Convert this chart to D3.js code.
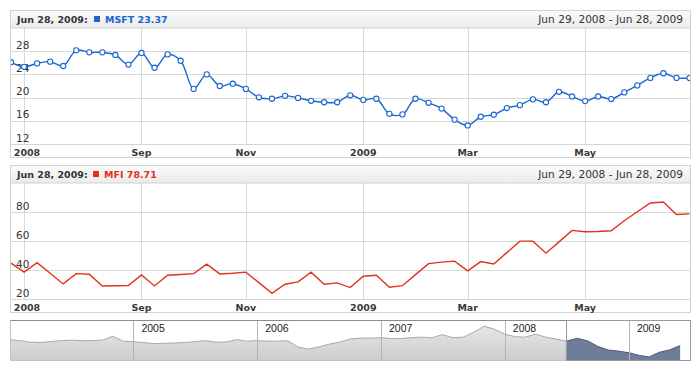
<!DOCTYPE html>
<html>
<head>
<meta charset="utf-8">
<script src="https://cdn.jsdelivr.net/npm/d3@7"></script>
<style>
  body { margin: 0; background: #fff; }
  text { font-family: "DejaVu Sans", Verdana, sans-serif; }
</style>
</head>
<body>
<svg id="chart"></svg>
<script>
// weekly closes, Sundays from Jun 29, 2008 to Jun 28, 2009
var firstWeek = "2008-06-29";
var lastWeek = "2009-06-28";
var msftValues = [26.1, 25.3, 25.9, 26.2, 25.45, 28.15, 27.8, 27.8, 27.35, 25.7,
                  27.7, 25.15, 27.45, 26.35, 21.5, 24.0, 22.0, 22.4, 21.5, 20.05,
                  19.8, 20.3, 19.95, 19.45, 19.2, 19.2, 20.4, 19.6, 19.8, 17.2,
                  17.1, 19.8, 19.1, 18.1, 16.2, 15.2, 16.7, 17.05, 18.2, 18.7,
                  19.7, 19.2, 21.0, 20.2, 19.4, 20.2, 19.75, 20.9, 22.1, 23.4,
                  24.2, 23.4, 23.37];
var mfiValues = [44.7, 38.5, 45.1, 37.8, 30.4, 37.5, 37.1, 29.0, 29.1, 29.2,
                 36.6, 29.0, 36.4, 36.9, 37.5, 44.0, 37.3, 37.8, 38.5, 31.3,
                 23.9, 30.2, 31.8, 38.5, 30.2, 31.1, 27.9, 35.7, 36.4, 28.1,
                 29.2, 36.8, 44.4, 45.4, 46.1, 39.4, 45.8, 44.2, 52.0, 59.9,
                 59.9, 51.6, 59.4, 67.3, 66.4, 66.6, 67.1, 74.0, 80.2, 86.2,
                 86.9, 78.3, 78.71];
var tickMonths = ["2008-07", "2008-09", "2008-11", "2009-01", "2009-03", "2009-05"];
var tickLabels = ["2008", "Sep", "Nov", "2009", "Mar", "May"];
var msftTicks = [12, 16, 20, 24, 28];
var mfiTicks = [20, 40, 60, 80];

// monthly history for the scroller, Jan 2004 .. Jun 2009
var scrollFirst = "2004-01";
var scrollValues = [26.75, 26.1, 25.2, 24.9, 25.5, 26.1, 26.4, 26.1, 26.1, 26.4, 28.9, 25.8,
                    25.4, 24.9, 24.25, 24.4, 24.6, 24.9, 25.5, 26.1, 25.2, 25.2, 26.75, 25.8,
                    26.1, 25.8, 25.8, 26.1, 22.1, 20.8, 22.1, 23.9, 25.2, 27.1, 27.7, 27.7,
                    28.0, 27.4, 27.4, 28.0, 28.3, 28.0, 29.9, 28.0, 28.3, 31.4, 35.2, 33.3,
                    30.2, 28.6, 28.3, 30.2, 28.3, 27.1, 25.8, 27.6, 26.0, 22.5, 20.2, 19.5,
                    18.5, 16.8, 15.8, 18.8, 20.3, 23.0];
var scrollYears = ["2005", "2006", "2007", "2008", "2009"];

var width = 700, height = 370;
var parseDay = d3.timeParse("%Y-%m-%d");
var parseMonth = d3.timeParse("%Y-%m");

var svg = d3.select("#chart").attr("width", width).attr("height", height);

var weeks = d3.timeWeek.range(parseDay(firstWeek), d3.timeDay.offset(parseDay(lastWeek), 1));
var left = 11, right = 689.5;
var x = d3.scalePoint().domain(weeks).range([left, right]);

var defs = svg.append("defs");
var hg = defs.append("linearGradient").attr("id", "hdr").attr("x1", 0).attr("y1", 0).attr("x2", 0).attr("y2", 1);
hg.append("stop").attr("offset", "0%").attr("stop-color", "#fbfbfb");
hg.append("stop").attr("offset", "100%").attr("stop-color", "#ebebeb");
var sg = defs.append("linearGradient").attr("id", "scrl").attr("x1", 0).attr("y1", 0).attr("x2", 0).attr("y2", 1);
sg.append("stop").attr("offset", "0%").attr("stop-color", "#e6e6e6");
sg.append("stop").attr("offset", "100%").attr("stop-color", "#cdcdcd");

function tickX(m) {
  var mDate = parseMonth(m);
  var w = weeks.find(function (d) { return d >= mDate; });
  return x(w);
}

function panel(opt) {
  var g = svg.append("g");
  var plotTop = opt.top + 18, plotBottom = opt.top + 134;
  var y = d3.scaleLinear().domain(opt.domain).range([plotBottom, plotTop]);

  g.append("rect").attr("x", 10.5).attr("y", opt.top + 0.5)
    .attr("width", 680).attr("height", 147).attr("fill", "#fff").attr("stroke", "#d2d2d2");
  g.append("rect").attr("x", 10.5).attr("y", opt.top + 0.5)
    .attr("width", 680).attr("height", 17.5).attr("fill", "url(#hdr)").attr("stroke", "#d2d2d2");

  // grid
  g.selectAll(".hg").data(opt.ticks).enter().append("line")
    .attr("x1", left).attr("x2", 690)
    .attr("y1", function (d) { return Math.round(y(d)) + 0.5; })
    .attr("y2", function (d) { return Math.round(y(d)) + 0.5; })
    .attr("stroke", "#d6dad6");
  g.selectAll(".vg").data(tickMonths).enter().append("line")
    .attr("x1", function (d) { return Math.round(tickX(d)) + 0.5; })
    .attr("x2", function (d) { return Math.round(tickX(d)) + 0.5; })
    .attr("y1", plotTop).attr("y2", plotBottom)
    .attr("stroke", "#d6dad6");
  g.append("line").attr("x1", 10.5).attr("x2", 690.5)
    .attr("y1", plotBottom + 0.5).attr("y2", plotBottom + 0.5).attr("stroke", "#d6d6d6");

  // axis labels
  g.selectAll(".yl").data(opt.ticks).enter().append("text")
    .attr("x", 16).attr("y", function (d) { return y(d) - 2.5; })
    .attr("font-size", 10.5).attr("fill", "#333")
    .text(function (d) { return d; });
  g.selectAll(".xl").data(tickMonths).enter().append("text")
    .attr("x", function (d) { return Math.max(tickX(d), 27); })
    .attr("y", plotBottom + 11.5)
    .attr("text-anchor", "middle").attr("font-size", 9.5).attr("font-weight", "bold")
    .attr("fill", "#3a3a3a")
    .text(function (d, i) { return tickLabels[i]; });

  // header
  g.append("text").attr("x", 17).attr("y", opt.top + 12.5)
    .attr("font-size", 9.5).attr("font-weight", "bold").attr("fill", "#333")
    .text("Jun 28, 2009:");
  g.append("rect").attr("x", opt.keyX).attr("y", opt.top + 6).attr("width", 6).attr("height", 6)
    .attr("fill", opt.color);
  g.append("text").attr("x", opt.keyX + 11).attr("y", opt.top + 12.5)
    .attr("font-size", 9.5).attr("font-weight", "bold").attr("fill", opt.color)
    .text(opt.name + " " + d3.format(".2f")(opt.values[opt.values.length - 1]));
  g.append("text").attr("x", 683).attr("y", opt.top + 13)
    .attr("text-anchor", "end").attr("font-size", 10.6).attr("fill", "#333")
    .text("Jun 29, 2008 - Jun 28, 2009");

  var clipId = "clip" + opt.name;
  defs.append("clipPath").attr("id", clipId).append("rect")
    .attr("x", left).attr("y", plotTop).attr("width", 690 - left).attr("height", plotBottom - plotTop);
  var s = g.append("g").attr("clip-path", "url(#" + clipId + ")");

  var line = d3.line()
    .x(function (d, i) { return x(weeks[i]); })
    .y(function (d) { return y(d); })
    .curve(opt.curve);
  s.append("path").datum(opt.values).attr("d", line)
    .attr("fill", "none").attr("stroke", opt.color).attr("stroke-width", 1.4);

  if (opt.markers) {
    s.selectAll(".pt").data(opt.values).enter().append("circle")
      .attr("cx", function (d, i) { return x(weeks[i]); })
      .attr("cy", function (d) { return y(d); })
      .attr("r", 2.6).attr("fill", "#fff").attr("stroke", opt.color).attr("stroke-width", 1.1);
  }
}

panel({ top: 10, domain: [12, 32], ticks: msftTicks, values: msftValues, name: "MSFT",
        color: "#1b67cf", keyX: 94, curve: d3.curveCatmullRom, markers: true });
panel({ top: 165, domain: [20, 100], ticks: mfiTicks, values: mfiValues, name: "MFI",
        color: "#e0321e", keyX: 93, curve: d3.curveLinear, markers: false });

// scroller
var sTop = 321, sBottom = 360;
var months = d3.timeMonth.range(parseMonth(scrollFirst), parseMonth("2009-07"));
var sx = d3.scaleTime().domain([parseDay("2004-01-06"), parseDay("2009-06-30")]).range([left, 690]);
var sy = d3.scaleLinear().domain([13.9, 38.5]).range([sBottom, sTop]);
var selL = sx(parseDay(firstWeek)), selR = 690;

var sc = svg.append("g");
defs.append("clipPath").attr("id", "sclip").append("rect")
  .attr("x", left).attr("y", sTop).attr("width", 690 - left).attr("height", sBottom - sTop);
defs.append("clipPath").attr("id", "selclip").append("rect")
  .attr("x", selL).attr("y", sTop).attr("width", selR - selL).attr("height", sBottom - sTop);

sc.append("rect").attr("x", 10.5).attr("y", sTop - 0.5).attr("width", 680).attr("height", sBottom - sTop + 1)
  .attr("fill", "#fff");

var area = d3.area()
  .x(function (d, i) { return sx(months[i]); })
  .y0(sBottom).y1(function (d) { return sy(d); });
var sline = d3.line()
  .x(function (d, i) { return sx(months[i]); })
  .y(function (d) { return sy(d); });

var base = sc.append("g").attr("clip-path", "url(#sclip)");
base.append("path").datum(scrollValues).attr("d", area).attr("fill", "url(#scrl)");
base.append("path").datum(scrollValues).attr("d", sline).attr("fill", "none")
  .attr("stroke", "#a9a9a9").attr("stroke-width", 1);

var sel = sc.append("g").attr("clip-path", "url(#selclip)");
sel.append("rect").attr("x", selL).attr("y", sTop).attr("width", selR - selL).attr("height", sBottom - sTop)
  .attr("fill", "#fff");
sel.append("path").datum(scrollValues).attr("d", area).attr("fill", "#6f7d9b");
sel.append("path").datum(scrollValues).attr("d", sline).attr("fill", "none")
  .attr("stroke", "#4d5a78").attr("stroke-width", 1);

sc.selectAll(".yr").data(scrollYears).enter().append("line")
  .attr("x1", function (d) { return Math.round(sx(parseDay(d + "-01-01"))) + 0.5; })
  .attr("x2", function (d) { return Math.round(sx(parseDay(d + "-01-01"))) + 0.5; })
  .attr("y1", sTop).attr("y2", sBottom)
  .attr("stroke", "#b4b4b4");
sc.selectAll(".yt").data(scrollYears).enter().append("text")
  .attr("x", function (d) { return sx(parseDay(d + "-01-01")) + 8; })
  .attr("y", sTop + 11)
  .attr("font-size", 10.5).attr("fill", "#222")
  .style("font-family", "'Liberation Sans', Arial, sans-serif")
  .text(function (d) { return d; });

sc.append("rect").attr("x", 10.5).attr("y", sTop - 0.5).attr("width", 680).attr("height", sBottom - sTop + 1)
  .attr("fill", "none").attr("stroke", "#c4c4c4");
sc.append("line").attr("x1", 10.5).attr("x2", selL).attr("y1", sTop - 0.5).attr("y2", sTop - 0.5)
  .attr("stroke", "#8c8c8c");
sc.append("rect").attr("x", Math.round(selL) + 0.5).attr("y", sTop - 0.5)
  .attr("width", selR - Math.round(selL)).attr("height", sBottom - sTop + 1)
  .attr("fill", "none").attr("stroke", "#9a9a9a");
</script>
</body>
</html>
